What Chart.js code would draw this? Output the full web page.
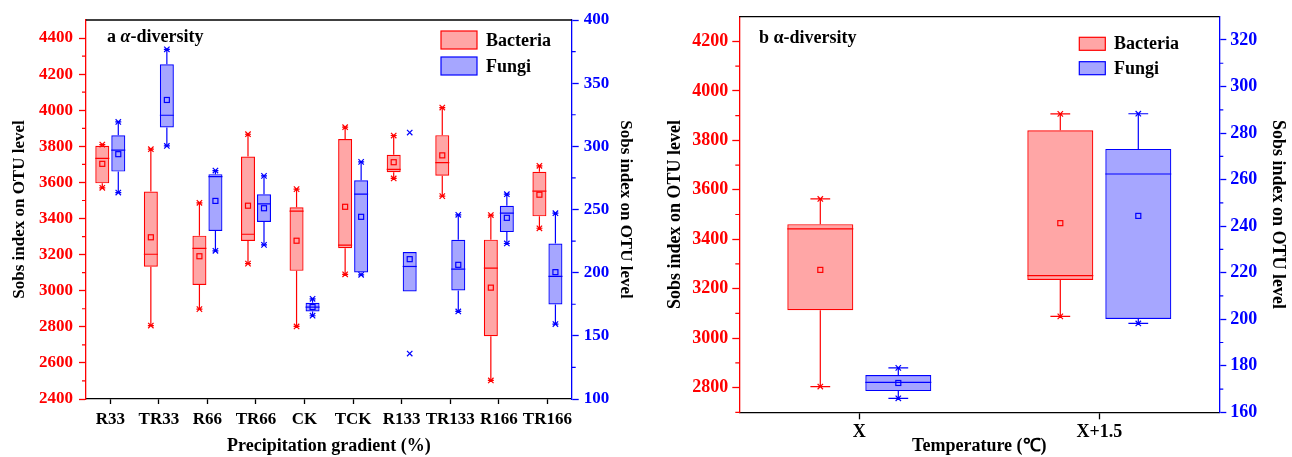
<!DOCTYPE html>
<html>
<head>
<meta charset="utf-8">
<script src="https://cdn.jsdelivr.net/npm/chart.js@4.4.0/dist/chart.umd.min.js"></script>
<style>
  body { margin: 0; background: #fff; }
  canvas { position: absolute; top: 0; }
  #chartA { left: 0; }
  #chartB { left: 650px; }
</style>
</head>
<body>
<canvas id="chartA" width="645" height="457"></canvas>
<canvas id="chartB" width="642" height="457"></canvas>
<script>
// Panel a: precipitation gradient
const categories = ["R33", "TR33", "R66", "TR66", "CK", "TCK", "R133", "TR133", "R166", "TR166"];

const bacteriaMin = [3570, 2807, 2898, 3150, 2802, 3091, 3622, 3524, 2503, 3346];
const bacteriaQ1 = [3595, 3133, 3032, 3276, 3110, 3235, 3657, 3637, 2748, 3412];
const bacteriaMedian = [3733, 3202, 3235, 3313, 3441, 3253, 3672, 3710, 3125, 3552];
const bacteriaQ3 = [3803, 3550, 3305, 3744, 3462, 3841, 3753, 3862, 3283, 3659];
const bacteriaMax = [3810, 3784, 3487, 3867, 3563, 3906, 3860, 4015, 3419, 3692];
const bacteriaMean = [3703, 3296, 3191, 3471, 3277, 3465, 3712, 3750, 3017, 3532];

const fungiMin = [263.4, 300.3, 217.3, 222, 165.9, 198.3, 136, 169.3, 223.1, 159.3];
const fungiQ1 = [280, 315, 233, 240.2, 169.3, 200.1, 185.1, 185.9, 232.1, 174.8];
const fungiMedian = [297, 324.6, 276, 254.5, 172.8, 262.1, 204.9, 202.8, 247.1, 197];
const fungiQ3 = [308.8, 365, 278, 262, 176.2, 273.2, 216.3, 226, 252.9, 223.1];
const fungiMax = [319.3, 376.8, 280.8, 276.6, 179.3, 287.7, 310.9, 245.8, 262.1, 247.1];
const fungiMean = [293.8, 336.7, 256.8, 251, 172.8, 244.2, 210.7, 206.2, 243.4, 200.4];
// whisker ends (R133 fungi has no whiskers, its min/max are outliers)
const fungiWhiskerLow = [263.4, 300.3, 217.3, 222, 165.9, 198.3, 185.1, 169.3, 223.1, 159.3];
const fungiWhiskerHigh = [319.3, 376.8, 280.8, 276.6, 179.3, 287.7, 216.3, 245.8, 262.1, 247.1];

const leftTicksA = [2400, 2600, 2800, 3000, 3200, 3400, 3600, 3800, 4000, 4200, 4400];
const rightTicksA = [100, 150, 200, 250, 300, 350, 400];

// Panel b: temperature
const tempCategories = ["X", "X+1.5"];

const tempBacteriaMin = [2804, 3088];
const tempBacteriaQ1 = [3113, 3235];
const tempBacteriaMedian = [3442, 3253];
const tempBacteriaQ3 = [3461, 3841];
const tempBacteriaMax = [3563, 3907];
const tempBacteriaMean = [3276, 3465];

const tempFungiMin = [166, 198.2];
const tempFungiQ1 = [169.1, 200.1];
const tempFungiMedian = [172.9, 262.4];
const tempFungiQ3 = [176, 273.2];
const tempFungiMax = [179.1, 288.3];
const tempFungiMean = [172.6, 244.4];

const leftTicksB = [2800, 3000, 3200, 3400, 3600, 3800, 4000, 4200];
const rightTicksB = [160, 180, 200, 220, 240, 260, 280, 300, 320];

const FONT = "Liberation Serif";
const RED = "#ff0000";
const BLUE = "#0000ff";
const RED_FILL = "rgba(255, 0, 0, 0.35)";
const BLUE_FILL = "rgba(0, 0, 255, 0.35)";

// whiskers, median, mean and min/max markers on top of the floating bars
const boxParts = {
  id: "boxParts",
  afterDatasetsDraw(chart) {
    const ctx = chart.ctx;
    chart.data.datasets.forEach((ds, di) => {
      const meta = chart.getDatasetMeta(di);
      const scale = chart.scales[ds.yAxisID];
      const s = ds.stats;
      const py = (v) => scale.getPixelForValue(v);
      ctx.save();
      ctx.strokeStyle = ds.borderColor;
      ctx.lineWidth = 1.2;
      meta.data.forEach((bar, i) => {
        const x = bar.x;
        const half = bar.width / 2;
        const top = py(s.q3[i]);
        const bottom = py(s.q1[i]);
        const capHalf = Math.max(bar.width * 0.15, 3);
        ctx.beginPath();
        // median
        ctx.moveTo(x - half, py(s.median[i]));
        ctx.lineTo(x + half, py(s.median[i]));
        // whiskers
        ctx.moveTo(x, top);
        ctx.lineTo(x, py(s.whiskerHigh[i]));
        ctx.moveTo(x, bottom);
        ctx.lineTo(x, py(s.whiskerLow[i]));
        ctx.stroke();
        // mean square
        const my = py(s.mean[i]);
        ctx.strokeRect(x - 2.5, my - 2.5, 5, 5);
        // min / max markers
        [
          [s.max[i], s.whiskerHigh[i]],
          [s.min[i], s.whiskerLow[i]],
        ].forEach(([v, w]) => {
          const y = py(v);
          const d = 2.7;
          ctx.beginPath();
          ctx.moveTo(x - d, y - d);
          ctx.lineTo(x + d, y + d);
          ctx.moveTo(x - d, y + d);
          ctx.lineTo(x + d, y - d);
          if (v === w) {
            ctx.moveTo(x - capHalf, y);
            ctx.lineTo(x + capHalf, y);
          }
          ctx.stroke();
        });
      });
      ctx.restore();
    });
  },
};

// minor ticks, top frame line, panel title and legend
const frameExtras = {
  id: "frameExtras",
  afterDraw(chart, args, opts) {
    const ctx = chart.ctx;
    const area = chart.chartArea;
    ctx.save();
    // top frame
    ctx.strokeStyle = "#000";
    ctx.lineWidth = 1.3;
    ctx.beginPath();
    ctx.moveTo(area.left, area.top);
    ctx.lineTo(area.right, area.top);
    ctx.stroke();
    // minor ticks
    opts.minor.forEach((m) => {
      const scale = chart.scales[m.id];
      ctx.strokeStyle = m.color;
      ctx.lineWidth = 1.2;
      ctx.beginPath();
      for (let v = scale.min + m.first; v < scale.max; v += m.step * 2) {
        const y = scale.getPixelForValue(v);
        const x = m.id === "y" ? area.left : area.right;
        const dir = m.id === "y" ? -1 : 1;
        ctx.moveTo(x, y);
        ctx.lineTo(x + dir * 4, y);
      }
      ctx.stroke();
    });
    // panel title
    ctx.fillStyle = "#000";
    ctx.textBaseline = "middle";
    let tx = opts.title.x;
    opts.title.parts.forEach((p) => {
      ctx.font = `${p.italic ? "italic " : ""}bold ${opts.title.size}px "${FONT}"`;
      ctx.fillText(p.text, tx, opts.title.y);
      tx += ctx.measureText(p.text).width;
    });
    // legend
    const lg = opts.legend;
    ctx.font = `bold ${lg.size}px "${FONT}"`;
    chart.data.datasets.forEach((ds, i) => {
      const y = lg.y + i * lg.gap;
      ctx.fillStyle = "#fff";
      ctx.fillRect(lg.x, y, lg.w, lg.h);
      ctx.fillStyle = ds.backgroundColor;
      ctx.fillRect(lg.x, y, lg.w, lg.h);
      ctx.strokeStyle = ds.borderColor;
      ctx.lineWidth = 1.2;
      ctx.strokeRect(lg.x, y, lg.w, lg.h);
      ctx.fillStyle = "#000";
      ctx.fillText(ds.label, lg.textX, y + lg.h / 2 + 1);
    });
    ctx.restore();
  },
};

function yAxis(pos, color, tickList, min, max, width, titlePad, size, tickPad) {
  return {
    position: pos,
    min: min,
    max: max,
    afterFit: (s) => {
      s.width = width;
    },
    afterBuildTicks: (s) => {
      s.ticks = tickList.map((v) => ({ value: v }));
    },
    border: { color: color, width: 1.3 },
    grid: { drawOnChartArea: false, tickLength: 7, tickColor: color, tickWidth: 1.3 },
    ticks: {
      color: color,
      padding: tickPad,
      font: { family: FONT, size: size, weight: "bold" },
      callback: (value) => String(value),
    },
    title: {
      display: true,
      text: "Sobs index on OTU level",
      color: "#000",
      font: { family: FONT, size: size, weight: "bold" },
      padding: { top: titlePad, bottom: 0 },
    },
  };
}

function xAxis(title, height, size, tickLen, tickPad) {
  return {
    afterFit: (s) => {
      s.height = height;
    },
    border: { color: "#000", width: 1.3 },
    grid: { drawOnChartArea: false, offset: false, tickLength: tickLen, tickColor: "#000", tickWidth: 1.3 },
    ticks: {
      color: "#000",
      padding: tickPad,
      maxRotation: 0,
      autoSkip: false,
      font: { family: FONT, size: size, weight: "bold" },
    },
    title: {
      display: true,
      text: title,
      color: "#000",
      font: { family: FONT, size: 18, weight: "bold" },
      padding: { top: 0, bottom: 0 },
    },
  };
}

function makeDatasets(bact, fung, catPct, barPct) {
  return [
    {
      label: "Bacteria",
      data: bact.q1.map((v, i) => [v, bact.q3[i]]),
      yAxisID: "y",
      backgroundColor: RED_FILL,
      borderColor: RED,
      borderWidth: 1.2,
      borderSkipped: false,
      categoryPercentage: catPct,
      barPercentage: barPct,
      stats: bact,
    },
    {
      label: "Fungi",
      data: fung.q1.map((v, i) => [v, fung.q3[i]]),
      yAxisID: "y1",
      backgroundColor: BLUE_FILL,
      borderColor: BLUE,
      borderWidth: 1.2,
      borderSkipped: false,
      categoryPercentage: catPct,
      barPercentage: barPct,
      stats: fung,
    },
  ];
}

new Chart(document.getElementById("chartA"), {
  type: "bar",
  data: {
    labels: categories,
    datasets: makeDatasets(
      {
        min: bacteriaMin, q1: bacteriaQ1, median: bacteriaMedian, q3: bacteriaQ3,
        max: bacteriaMax, mean: bacteriaMean, whiskerLow: bacteriaMin, whiskerHigh: bacteriaMax,
      },
      {
        min: fungiMin, q1: fungiQ1, median: fungiMedian, q3: fungiQ3,
        max: fungiMax, mean: fungiMean, whiskerLow: fungiWhiskerLow, whiskerHigh: fungiWhiskerHigh,
      },
      0.659,
      0.875
    ),
  },
  options: {
    responsive: false,
    animation: false,
    layout: { padding: { top: 20, left: 0, right: 0, bottom: 0 } },
    plugins: {
      legend: { display: false },
      tooltip: { enabled: false },
      frameExtras: {
        minor: [
          { id: "y", step: 100, first: 100, color: RED },
          { id: "y1", step: 25, first: 25, color: BLUE },
        ],
        title: { x: 107, y: 37, size: 18, parts: [{ text: "a " }, { text: "α", italic: true }, { text: "-diversity" }] },
        legend: { x: 441, y: 31, w: 36, h: 18, gap: 26, textX: 486, size: 18 },
      },
    },
    scales: {
      x: xAxis("Precipitation gradient (%)", 58, 17, 5, 5),
      y: yAxis("left", RED, leftTicksA, 2400, 4500, 86, 9, 17, 6),
      y1: yAxis("right", BLUE, rightTicksA, 100, 400, 73.3, 9.8, 17, 5),
    },
  },
  plugins: [boxParts, frameExtras],
});

new Chart(document.getElementById("chartB"), {
  type: "bar",
  data: {
    labels: tempCategories,
    datasets: makeDatasets(
      {
        min: tempBacteriaMin, q1: tempBacteriaQ1, median: tempBacteriaMedian, q3: tempBacteriaQ3,
        max: tempBacteriaMax, mean: tempBacteriaMean, whiskerLow: tempBacteriaMin, whiskerHigh: tempBacteriaMax,
      },
      {
        min: tempFungiMin, q1: tempFungiQ1, median: tempFungiMedian, q3: tempFungiQ3,
        max: tempFungiMax, mean: tempFungiMean, whiskerLow: tempFungiMin, whiskerHigh: tempFungiMax,
      },
      0.65,
      0.846
    ),
  },
  options: {
    responsive: false,
    animation: false,
    layout: { padding: { top: 16.7, left: 0, right: 0, bottom: 0 } },
    plugins: {
      legend: { display: false },
      tooltip: { enabled: false },
      frameExtras: {
        minor: [
          { id: "y", step: 100, first: 0, color: RED },
          { id: "y1", step: 10, first: 10, color: BLUE },
        ],
        title: { x: 109, y: 38, size: 18, parts: [{ text: "b α-diversity" }] },
        legend: { x: 429.3, y: 37.3, w: 26, h: 13, gap: 24.4, textX: 464, size: 18 },
      },
    },
    scales: {
      x: xAxis("Temperature (℃)", 44.7, 18, 7, 2),
      y: yAxis("left", RED, leftTicksB, 2700, 4300, 89.3, 14.2, 18, 4),
      y1: yAxis("right", BLUE, rightTicksB, 160, 330, 72.7, 3.2, 18, 4),
    },
  },
  plugins: [boxParts, frameExtras],
});
</script>
</body>
</html>
